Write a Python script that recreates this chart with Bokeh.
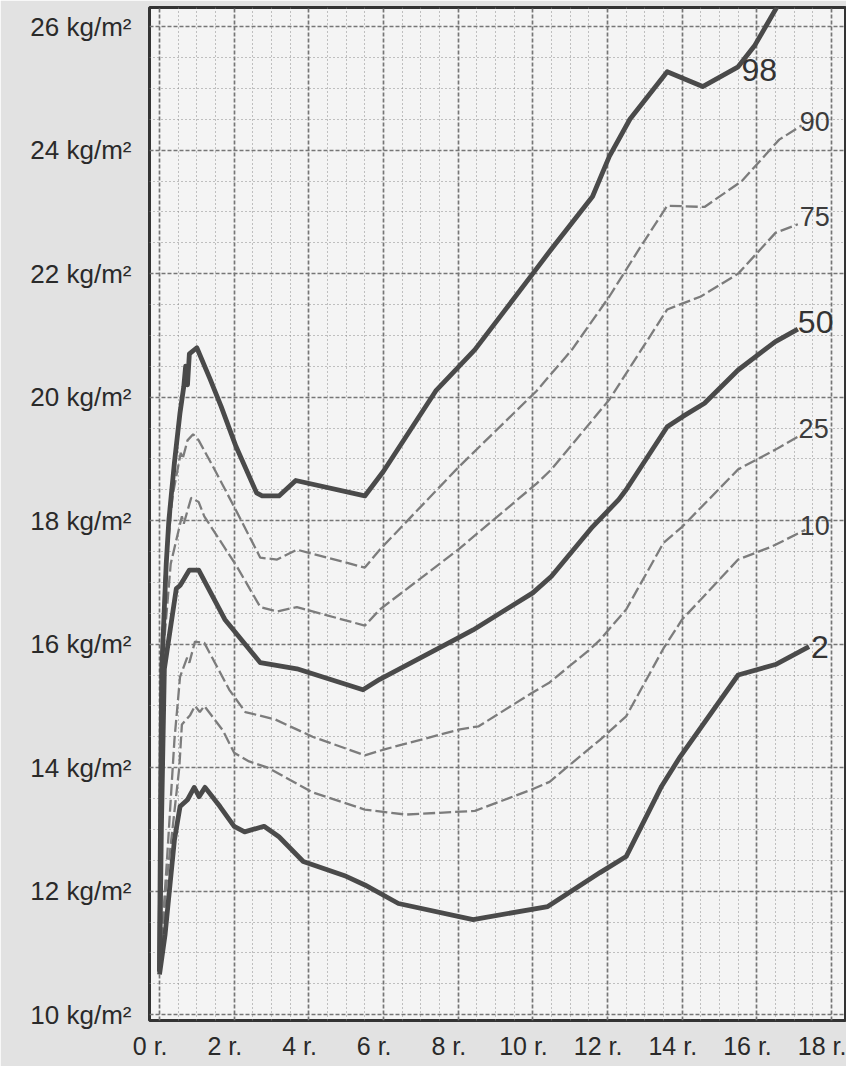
from bokeh.plotting import figure
from bokeh.models import Range1d, FixedTicker, LinearAxis, PrintfTickFormatter
from bokeh.embed import file_html
from bokeh.resources import INLINE
from bokeh.core.properties import value

# ---- data (age in years, BMI in kg/m2) ----
age_p98 = [0.0, 0.03, 0.06, 0.18, 0.25, 0.4, 0.55, 0.65, 0.7, 0.75, 0.8, 1.0, 1.35, 1.65, 2.05, 2.6, 2.75,
           3.2, 3.65, 5.5, 6.0, 7.4, 8.45, 10.0, 10.5, 11.6, 12.05, 12.6, 13.6, 14.55, 15.5, 15.95, 17.0]
bmi_p98 = [10.7, 13.5, 15.6, 17.3, 18.0, 18.94, 19.75, 20.17, 20.5, 20.2, 20.7, 20.8, 20.3, 19.85, 19.2, 18.45, 18.4,
           18.4, 18.65, 18.4, 18.8, 20.1, 20.77, 22.0, 22.4, 23.25, 23.9, 24.5, 25.27, 25.03, 25.35, 25.7, 26.8]

age_p90 = [0.0, 0.04, 0.09, 0.13, 0.35, 0.57, 0.62, 0.75, 0.9, 1.05, 1.5, 2.08, 2.7, 3.15, 3.68, 5.5, 5.9,
           8.0, 10.1, 11.05, 12.05, 12.85, 13.6, 14.6, 15.6, 16.6, 17.2]
bmi_p90 = [10.7, 13.5, 15.8, 17.0, 18.4, 19.1, 19.0, 19.3, 19.4, 19.3, 18.8, 18.13, 17.4, 17.37, 17.53, 17.24, 17.53,
           18.86, 20.1, 20.77, 21.63, 22.4, 23.1, 23.08, 23.5, 24.17, 24.4]

age_p75 = [0.0, 0.05, 0.12, 0.3, 0.6, 0.65, 0.85, 1.05, 1.2, 2.08, 2.7, 3.15, 3.68, 5.5, 5.9,
           8.0, 10.1, 10.5, 12.05, 13.6, 14.5, 15.5, 16.5, 17.1]
bmi_p75 = [10.7, 13.5, 16.0, 17.3, 18.07, 17.95, 18.37, 18.3, 18.07, 17.25, 16.6, 16.53, 16.6, 16.3, 16.56,
           17.53, 18.6, 18.83, 19.96, 21.42, 21.63, 22.0, 22.66, 22.8]

age_p50 = [0.0, 0.05, 0.13, 0.45, 0.55, 0.6, 0.8, 1.05, 1.75, 2.7, 3.68, 5.45, 5.9, 7.9, 8.4, 10.0, 10.5,
           11.6, 12.3, 12.5, 13.6, 14.0, 14.6, 15.5, 16.5, 17.1]
bmi_p50 = [10.7, 13.0, 15.6, 16.9, 16.95, 17.0, 17.2, 17.2, 16.4, 15.7, 15.6, 15.26, 15.43, 16.07, 16.23, 16.83, 17.1,
           17.9, 18.34, 18.5, 19.52, 19.68, 19.9, 20.44, 20.9, 21.1]

age_p25 = [0.0, 0.2, 0.4, 0.55, 0.74, 0.8, 0.95, 1.2, 1.87, 2.3, 3.1, 4.1, 5.5, 6.05, 8.05, 8.55, 9.95, 10.45,
           11.5, 11.8, 12.5, 13.5, 14.0, 15.5, 16.5, 17.1]
bmi_p25 = [10.7, 12.5, 14.45, 15.47, 15.78, 15.7, 16.04, 16.02, 15.26, 14.9, 14.78, 14.5, 14.2, 14.3, 14.62, 14.67,
           15.2, 15.38, 15.9, 16.07, 16.56, 17.64, 17.9, 18.83, 19.15, 19.36]

age_p10 = [0.0, 0.2, 0.53, 0.6, 0.82, 0.95, 1.08, 1.2, 1.7, 2.0, 2.4, 2.9, 4.1, 5.5, 6.6, 8.45, 9.95, 10.45,
           10.9, 11.8, 12.5, 13.5, 14.0, 15.5, 16.4, 17.3]
bmi_p10 = [10.7, 12.2, 14.0, 14.7, 14.85, 15.0, 14.9, 15.0, 14.6, 14.24, 14.1, 14.0, 13.6, 13.32, 13.24, 13.3,
           13.64, 13.77, 14.0, 14.45, 14.83, 15.93, 16.4, 17.37, 17.58, 17.85]

age_p2 = [0.0, 0.15, 0.4, 0.55, 0.75, 0.93, 1.06, 1.22, 1.62, 2.0, 2.28, 2.8, 3.2, 3.85, 5.0, 5.5, 6.4, 8.4,
          10.4, 11.8, 12.5, 13.45, 13.95, 15.5, 16.5, 17.4]
bmi_p2 = [10.65, 11.3, 12.83, 13.37, 13.48, 13.68, 13.53, 13.68, 13.37, 13.05, 12.96, 13.05, 12.88, 12.48, 12.24,
          12.1, 11.8, 11.54, 11.75, 12.3, 12.56, 13.7, 14.18, 15.5, 15.67, 15.96]

x_ticks = [0, 2, 4, 6, 8, 10, 12, 14, 16, 18]
y_ticks = [10, 12, 14, 16, 18, 20, 22, 24, 26]
curve_labels = ["98", "90", "75", "50", "25", "10", "2"]

# ---- figure ----
FONT = "Liberation Sans"
x0, x1 = -0.268, 18.376
y0, y1 = 9.905, 26.31

p = figure(width=846, height=1066, output_backend="svg", toolbar_location=None,
           x_range=Range1d(x0, x1), y_range=Range1d(y0, y1),
           x_axis_location=None, min_border_left=149, min_border_right=1,
           min_border_top=7, min_border_bottom=46)
p.border_fill_color = "#e2e2e2"
p.background_fill_color = "#f4f4f4"
p.outline_line_color = "#333333"
p.outline_line_width = 3

xt = FixedTicker(ticks=x_ticks, minor_ticks=[v / 2 for v in range(0, 37) if v % 4 != 0])
yt = FixedTicker(ticks=y_ticks, minor_ticks=[10 + v / 2 for v in range(0, 33) if v % 4 != 0])

p.xgrid.ticker = xt
p.ygrid.ticker = yt
for g in (p.xgrid, p.ygrid):
    g.grid_line_color = "#767676"
    g.grid_line_width = 1.7
    g.grid_line_dash = "4 2"
    g.minor_grid_line_color = "#8a8a8a"
    g.minor_grid_line_width = 1
    g.minor_grid_line_dash = "1 3"

# y axis
p.yaxis.ticker = yt
p.yaxis.formatter = PrintfTickFormatter(format="%d kg/m²")
p.yaxis.axis_line_color = None
p.yaxis.major_tick_line_color = None
p.yaxis.minor_tick_line_color = None
p.yaxis.major_label_text_font = FONT
p.yaxis.major_label_text_font_size = "26px"
p.yaxis.major_label_text_color = "#2a2a2a"
p.yaxis.major_label_standoff = 12

# x axis (labels printed slightly left of the grid lines, as in the scan)
p.extra_x_ranges = {"lab": Range1d(x0 + 0.25, x1 + 0.25)}
xa = LinearAxis(x_range_name="lab", ticker=FixedTicker(ticks=x_ticks),
                formatter=PrintfTickFormatter(format="%d r."))
xa.axis_line_color = None
xa.major_tick_line_color = None
xa.minor_tick_line_color = None
xa.major_label_text_font = FONT
xa.major_label_text_font_size = "25px"
xa.major_label_text_color = "#2a2a2a"
xa.major_label_standoff = 5
p.add_layout(xa, "below")

# ---- curves ----
solid = dict(line_color="#4a4a4a", line_width=4.8, line_join="round")
dashed = dict(line_color="#7c7c7c", line_width=2.3, line_dash="12 4")

p.line(age_p10, bmi_p10, **dashed)
p.line(age_p25, bmi_p25, **dashed)
p.line(age_p75, bmi_p75, **dashed)
p.line(age_p90, bmi_p90, **dashed)
p.line(age_p2, bmi_p2, **solid)
p.line(age_p50, bmi_p50, **solid)
p.line(age_p98, bmi_p98, **solid)

# ---- percentile labels ----
big = [curve_labels[0], curve_labels[3], curve_labels[6]]
small = [curve_labels[1], curve_labels[2], curve_labels[4], curve_labels[5]]
p.text(x=[15.59, 17.1, 17.45], y=[25.30, 21.22, 15.96], text=big,
       text_font=value(FONT), text_font_size="32px", text_color="#333333",
       text_align="left", text_baseline="middle")
p.text(x=[17.15, 17.15, 17.12, 17.15], y=[24.46, 22.92, 19.49, 17.92], text=small,
       text_font=value(FONT), text_font_size="27px", text_color="#3c3c3c",
       text_align="left", text_baseline="middle")

open("out.html", "w").write(file_html(p, INLINE))
